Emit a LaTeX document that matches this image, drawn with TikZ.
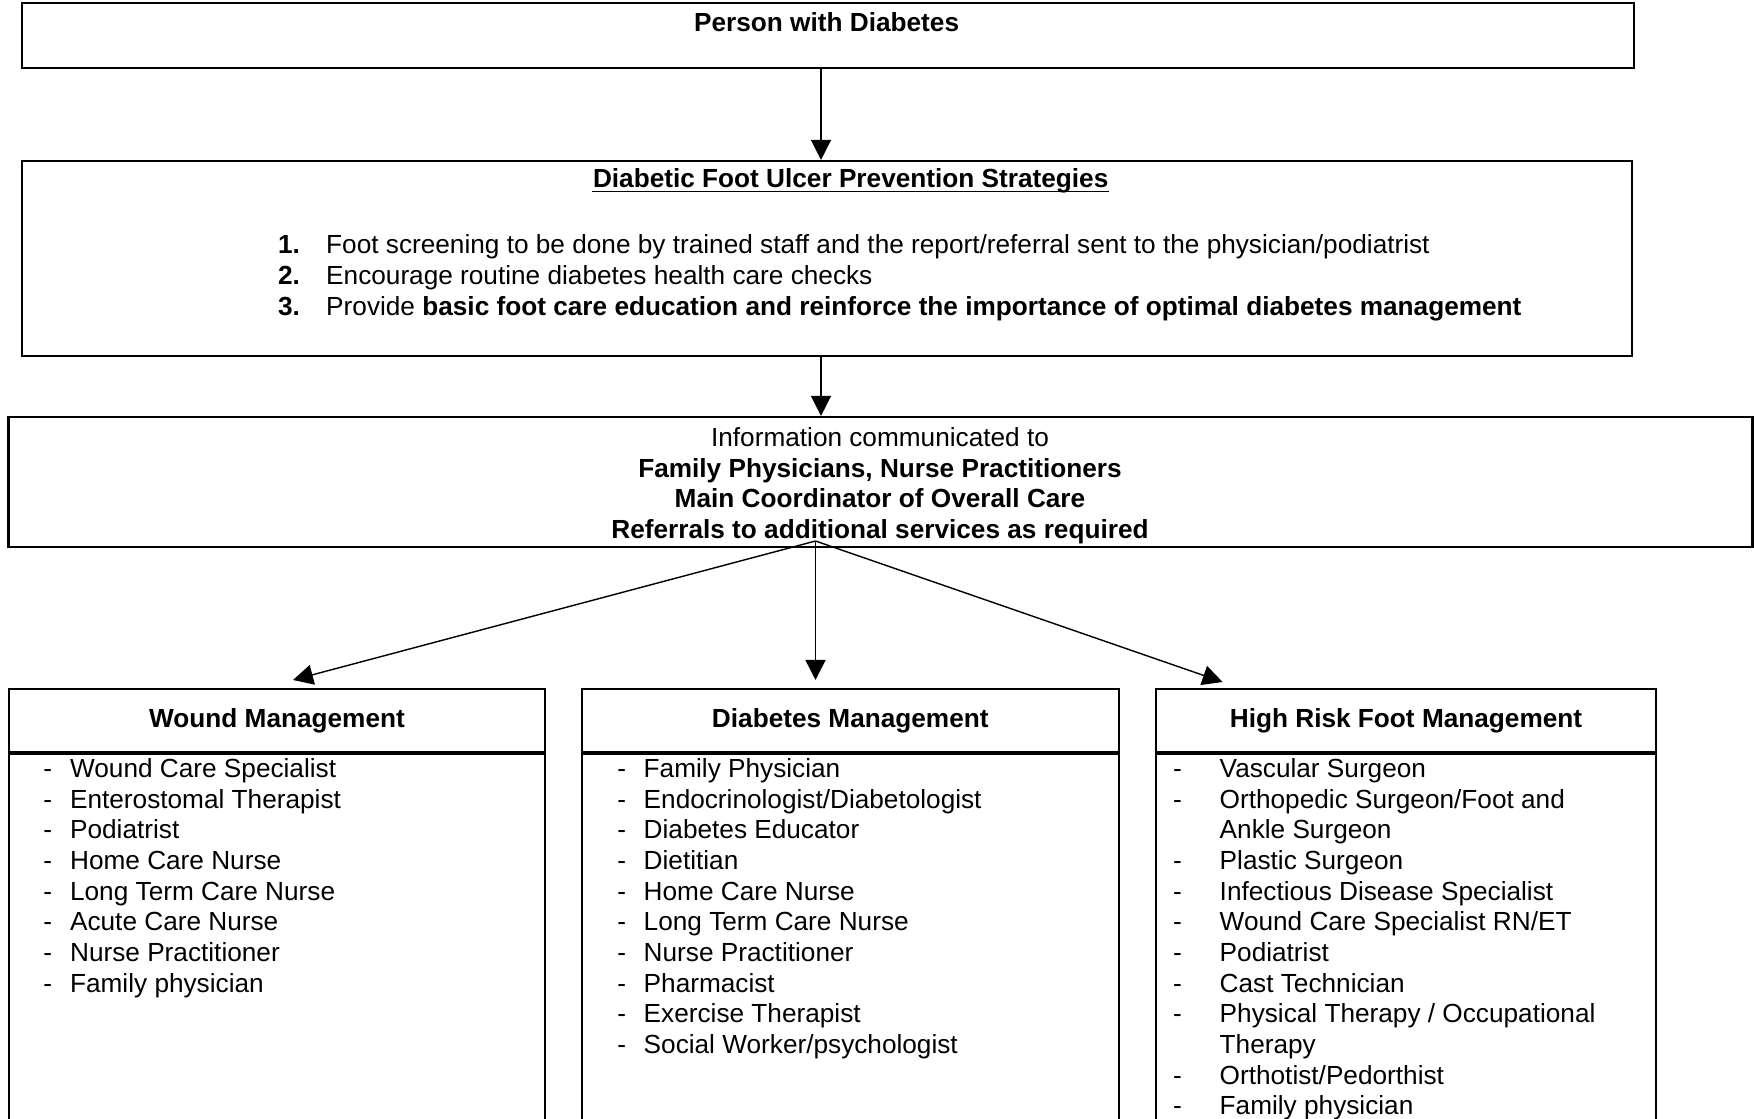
\documentclass[tikz,border=0pt]{standalone}
\usepackage{fontspec}
\setmainfont{Liberation Sans}
\usetikzlibrary{arrows.meta}

\begin{document}
\begin{tikzpicture}[x=0.01cm, y=-0.01cm,
          every node/.style={font=\fontsize{7.45}{8.72}\selectfont, inner sep=0pt},
          box/.style={draw, line width=0.6pt},
          headbox/.style={box, font=\fontsize{7.45}{8.72}\selectfont\bfseries, minimum height=0.63cm},
          listbox/.style={box, minimum height=3.8cm},
          txt/.style={anchor=base},
          listtxt/.style={anchor=base west},
          arrow/.style={-{Triangle[length=0.2cm, width=0.2cm]}, line width=0.4pt}]
        \useasboundingbox (0,0) rectangle (1754,1119);
        \clip (0,0) rectangle (1754,1119);
        % top boxes
        \node[box, minimum width=16.11cm, minimum height=0.648cm] (person) at (827.8,35.8) {};
        \node[txt, font=\fontsize{7.45}{8.72}\selectfont\bfseries] (persontxt) at (826.6,31.4) {Person with Diabetes};
        \node[box, minimum width=16.09cm, minimum height=1.947cm] (strat) at (826.7,258.4) {};
        \node[txt, font=\fontsize{7.45}{8.72}\selectfont\bfseries] (strattitle) at (850.7,188) {Diabetic Foot Ulcer Prevention Strategies};
        \draw[line width=0.5pt] ([yshift=-0.035cm]strattitle.base west) -- ([yshift=-0.035cm]strattitle.base east);
        \node[listtxt] (stratlist) at (277.4,254) {\begin{tabular}[t]{@{}p{0.481cm}@{}l@{}}
          \textbf{1.} & Foot screening to be done by trained staff and the report/referral sent to the physician/podiatrist\\
          \textbf{2.} & Encourage routine diabetes health care checks\\
          \textbf{3.} & Provide \textbf{basic foot care education and reinforce the importance of optimal diabetes management}
        \end{tabular}};
        \node[box, minimum width=17.43cm, minimum height=1.30cm] (info) at (880.5,482) {};
        \node[txt] (infotxt) at (880,446.4) {\begin{tabular}[t]{@{}c@{}}
          Information communicated to\\
          \textbf{Family Physicians, Nurse Practitioners}\\
          \textbf{Main Coordinator of Overall Care}\\
          \textbf{Referrals to additional services as required}
        \end{tabular}};
        % bottom boxes
        \node[headbox, minimum width=5.36cm] (woundhead) at (277,720.5) {Wound Management};
        \node[listbox, minimum width=5.36cm, anchor=north] (woundlist) at (woundhead.south) {};
        \node[headbox, minimum width=5.366cm] (diabhead) at (850.3,720.5) {Diabetes Management};
        \node[listbox, minimum width=5.366cm, anchor=north] (diablist) at (diabhead.south) {};
        \node[headbox, minimum width=4.989cm] (riskhead) at (1406,720.5) {High Risk Foot Management};
        \node[listbox, minimum width=4.989cm, anchor=north] (risklist) at (riskhead.south) {};
        \node[listtxt] (woundtxt) at (42.7,777.5) {\begin{tabular}[t]{@{}p{0.267cm}@{}l@{}}
          - & Wound Care Specialist\\
          - & Enterostomal Therapist\\
          - & Podiatrist\\
          - & Home Care Nurse\\
          - & Long Term Care Nurse\\
          - & Acute Care Nurse\\
          - & Nurse Practitioner\\
          - & Family physician
        \end{tabular}};
        \node[listtxt] (diabtxt) at (616.6,777.5) {\begin{tabular}[t]{@{}p{0.264cm}@{}l@{}}
          - & Family Physician\\
          - & Endocrinologist/Diabetologist\\
          - & Diabetes Educator\\
          - & Dietitian\\
          - & Home Care Nurse\\
          - & Long Term Care Nurse\\
          - & Nurse Practitioner\\
          - & Pharmacist\\
          - & Exercise Therapist\\
          - & Social Worker/psychologist
        \end{tabular}};
        \node[listtxt] (risktxt) at (1172.5,777.5) {\begin{tabular}[t]{@{}p{0.465cm}@{}l@{}}
          - & Vascular Surgeon\\
          - & Orthopedic Surgeon/Foot and\\
            & Ankle Surgeon\\
          - & Plastic Surgeon\\
          - & Infectious Disease Specialist\\
          - & Wound Care Specialist RN/ET\\
          - & Podiatrist\\
          - & Cast Technician\\
          - & Physical Therapy / Occupational\\
            & Therapy\\
          - & Orthotist/Pedorthist\\
          - & Family physician
        \end{tabular}};
        % connectors
        \coordinate (spine) at (821,0);
        \coordinate (hub) at (815.5,541);
        \coordinate (toWound) at (293,680);
        \coordinate (toDiab) at (815.5,680);
        \coordinate (toRisk) at (1222.6,682);
        \draw[arrow] (person.south -| spine) -- (strat.north -| spine);
        \draw[arrow] (strat.south -| spine) -- (info.north -| spine);
        \draw[arrow] (hub) -- (toWound);
        \draw[arrow] (hub) -- (toDiab);
        \draw[arrow] (hub) -- (toRisk);
      \end{tikzpicture}
\end{document}
